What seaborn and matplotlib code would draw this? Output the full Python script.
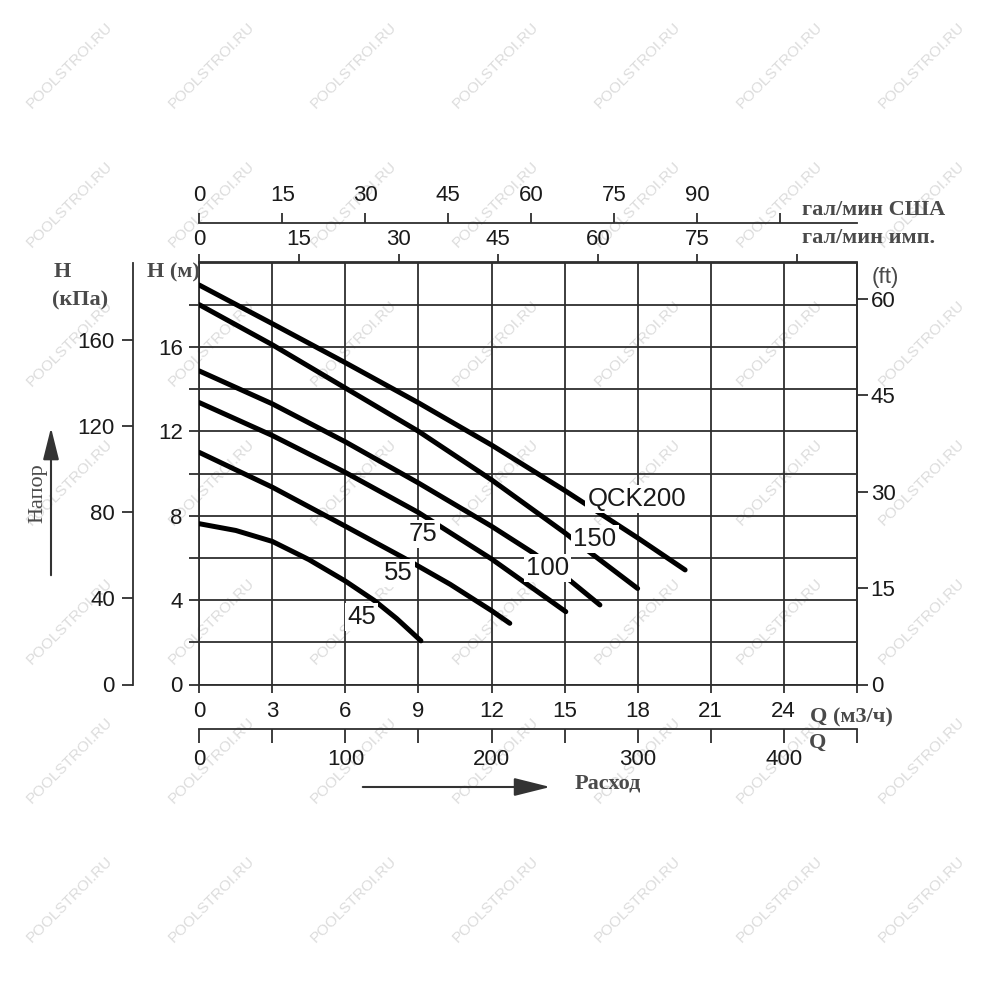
import numpy as np
import pandas as pd
import matplotlib.pyplot as plt
import seaborn as sns
from matplotlib.patches import FancyArrowPatch

# pump curves: flow Q (m3/h) vs head H (m)
q_45 = [0, 1.5, 3, 4.5, 6, 7.2, 8.1, 9.1]
h_45 = [7.62, 7.3, 6.78, 5.92, 4.9, 3.97, 3.13, 2.07]
q_55 = [0, 3, 6, 8.4, 10.3, 12, 12.75]
h_55 = [11.0, 9.35, 7.5, 6.0, 4.75, 3.5, 2.9]
q_75 = [0, 3, 6, 9, 12, 15.05]
h_75 = [13.36, 11.8, 10.05, 8.15, 5.95, 3.45]
q_100 = [0, 3, 6, 9, 12, 13.76, 15.2, 16.45]
h_100 = [14.86, 13.3, 11.5, 9.55, 7.5, 6.2, 4.95, 3.77]
q_150 = [0, 3, 6, 9, 12, 15, 16, 18]
h_150 = [18.0, 16.1, 14.05, 12.0, 9.7, 7.2, 6.3, 4.55]
q_200 = [0, 3, 6, 9, 12, 15, 18, 19.95]
h_200 = [18.93, 17.1, 15.25, 13.35, 11.35, 9.2, 6.95, 5.43]

curve_names = ["45", "55", "75", "100", "150", "QCK200"]

# axis tick values
q_ticks = list(range(0, 28, 3))
h_ticks = list(range(0, 20, 2))
kpa_ticks = [0, 40, 80, 120, 160]
ft_ticks = [0, 15, 30, 45, 60]
imp_ticks = list(range(0, 91, 15))
us_ticks = list(range(0, 106, 15))
lpm_ticks = list(range(0, 451, 50))

sns.set_theme(style="ticks")
plt.rcParams['font.family'] = ['Liberation Sans', 'DejaVu Sans']
serif = ['Liberation Serif', 'DejaVu Serif']

ink = '#1a1a1a'
grid_c = '#2e2e2e'
grey = '#4a4a4a'

fig = plt.figure(figsize=(10, 10), dpi=100)
ax = fig.add_axes([0.1993, 0.3155, 0.6575, 0.422])
ax.patch.set_alpha(0)

curves = [(q_45, h_45), (q_55, h_55), (q_75, h_75),
          (q_100, h_100), (q_150, h_150), (q_200, h_200)]
for q, h in curves:
    sns.lineplot(x=q, y=h, ax=ax, color='black', linewidth=3.6,
                 sort=False, estimator=None, legend=False, zorder=3)

# curve labels sit on white patches that break the lines
label_pos = [(6.67, 3.21), (8.17, 5.30), (9.2, 7.13),
             (14.29, 5.51), (16.25, 6.88), (17.96, 8.78)]
for name, (lx, ly) in zip(curve_names, label_pos):
    ax.text(lx, ly, name, fontsize=18.5, color=ink, ha='center', va='center',
            zorder=5, bbox=dict(facecolor='white', edgecolor='none', pad=1.5))

ax.set_xlim(0, 27)
ax.set_ylim(0, 20)
ax.set_xticks(q_ticks, [str(v) if v < 27 else '' for v in q_ticks])
ax.set_yticks(h_ticks, [str(v) if v % 4 == 0 else '' for v in h_ticks])
ax.set_xlabel('')
ax.set_ylabel('')
ax.grid(True, color=grid_c, linewidth=1.3)
ax.tick_params(direction='out', width=1.3, color=grid_c, labelsize=16,
               labelcolor=ink)
ax.tick_params(axis='y', length=7, pad=5)
ax.tick_params(axis='x', length=6, pad=6)
for sp in ax.spines.values():
    sp.set_color(grid_c)
    sp.set_linewidth(1.3)

# extra scales
kpa = ax.secondary_yaxis(-0.1008, functions=(lambda h: h * 9.80665, lambda p: p / 9.80665))
kpa.set_yticks(kpa_ticks)
kpa.tick_params(direction='out', length=8, width=1.3, labelsize=16, pad=5,
                color=grid_c, labelcolor=ink)

ft = ax.secondary_yaxis('right', functions=(lambda h: h * 3.28084, lambda f: f / 3.28084))
ft.set_yticks(ft_ticks)
ft.tick_params(direction='out', length=8, width=1.3, labelsize=16, pad=2,
               color=grid_c, labelcolor=ink)

imp = ax.secondary_xaxis('top', functions=(lambda q: q * 3.6662, lambda g: g / 3.6662))
imp.set_xticks(imp_ticks, [str(v) if v < 90 else '' for v in imp_ticks])
imp.tick_params(direction='out', length=6, width=1.3, labelsize=16, pad=3,
                color=grid_c, labelcolor=ink)

us = ax.secondary_xaxis(1 + 39.5 / 422, functions=(lambda q: q * 4.40287, lambda g: g / 4.40287))
us.set_xticks(us_ticks, [str(v) if v < 105 else '' for v in us_ticks])
us.tick_params(direction='out', length=7, width=1.3, labelsize=16, pad=5,
               color=grid_c, labelcolor=ink)

lpm = ax.secondary_xaxis(-44.8 / 422, functions=(lambda q: q * 1000 / 60, lambda l: l * 60 / 1000))
lpm.set_xticks(lpm_ticks, [str(v) if v % 100 == 0 and v < 450 else '' for v in lpm_ticks])
lpm.tick_params(direction='out', length=10, width=1.3, labelsize=16, pad=4,
                color=grid_c, labelcolor=ink)

for sec in (kpa, ft, imp, us, lpm):
    for sp in sec.spines.values():
        sp.set_color(grid_c)
        sp.set_linewidth(1.3)


def px(x, y):
    return x / 1000, 1 - y / 1000


# axis captions
fig.text(*px(200, 272), 'H (м)', ha='right', va='center', fontsize=16,
         fontweight='bold', family=serif, color=grey)
fig.text(*px(54, 272), 'H', ha='left', va='center', fontsize=16,
         fontweight='bold', family=serif, color=grey)
fig.text(*px(52, 300), '(кПа)', ha='left', va='center', fontsize=16,
         fontweight='bold', family=serif, color=grey)
fig.text(*px(802, 210), 'гал/мин США', ha='left', va='center', fontsize=16,
         fontweight='bold', family=serif, color=grey)
fig.text(*px(802, 238), 'гал/мин имп.', ha='left', va='center', fontsize=16,
         fontweight='bold', family=serif, color=grey)
fig.text(*px(872, 278), '(ft)', ha='left', va='center', fontsize=16, color=grey)
fig.text(*px(810, 717), 'Q (м3/ч)', ha='left', va='center', fontsize=16,
         fontweight='bold', family=serif, color=grey)
fig.text(*px(809, 743), 'Q', ha='left', va='center', fontsize=16,
         fontweight='bold', family=serif, color=grey)
fig.text(*px(608, 783), 'Расход', ha='center', va='center', fontsize=16,
         fontweight='bold', family=serif, color=grey)
fig.text(*px(38, 493), 'Напор', ha='center', va='center', fontsize=16,
         rotation=90, family=serif, color=grey)

fig.add_artist(FancyArrowPatch(px(51, 578), px(51, 425), transform=fig.transFigure,
                               arrowstyle='-|>,head_length=1.4,head_width=0.35',
                               mutation_scale=14, lw=1.5, color='#333333'))
fig.add_artist(FancyArrowPatch(px(360, 787), px(553, 787), transform=fig.transFigure,
                               arrowstyle='-|>,head_length=1.6,head_width=0.4',
                               mutation_scale=14, lw=1.5, color='#333333'))

# site watermark
for i in range(7):
    for j in range(7):
        fig.text(*px(70 + 142 * i, 65 + 139 * j), 'POOLSTROI.RU', rotation=45,
                 ha='center', va='center', fontsize=11, color='#dcdcdc', zorder=-5)

fig.savefig('out.png', dpi=100)
